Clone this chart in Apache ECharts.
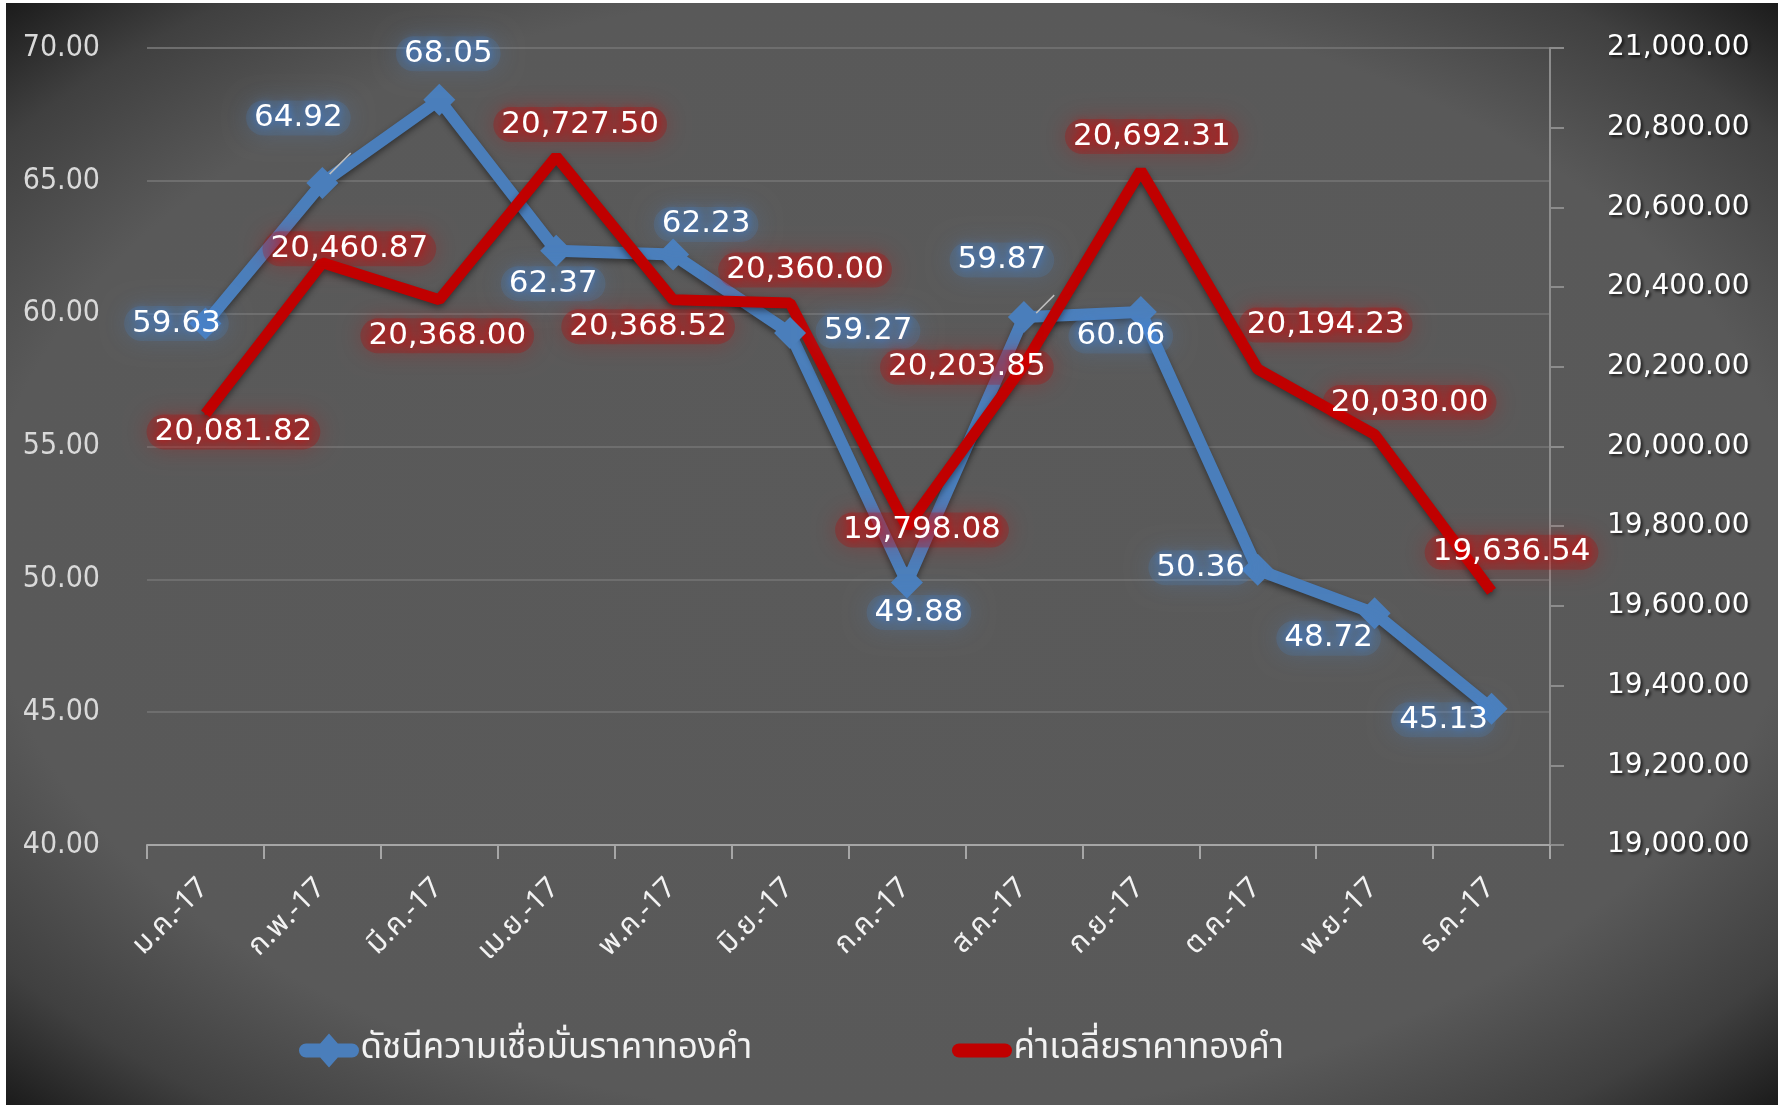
<!DOCTYPE html>
<html>
<head>
<meta charset="utf-8">
<title>ดัชนีความเชื่อมั่นราคาทองคำ</title>
<script src="https://cdn.jsdelivr.net/npm/echarts@6/dist/echarts.min.js"></script>
<style>
html, body { margin: 0; padding: 0; background: #ffffff; }
#main { width: 1785px; height: 1105px; }
</style>
</head>
<body>
<div id="main"></div>
<script>
// ข้อมูล (อ่านจากภาพ)
var months = ['ม.ค.-17', 'ก.พ.-17', 'มี.ค.-17', 'เม.ย.-17', 'พ.ค.-17', 'มิ.ย.-17',
              'ก.ค.-17', 'ส.ค.-17', 'ก.ย.-17', 'ต.ค.-17', 'พ.ย.-17', 'ธ.ค.-17'];
var confidenceIndex = [59.63, 64.92, 68.05, 62.37, 62.23, 59.27, 49.88, 59.87, 60.06, 50.36, 48.72, 45.13];
var goldAverage = [20081.82, 20460.87, 20368.00, 20727.50, 20368.52, 20360.00,
                   19798.08, 20203.85, 20692.31, 20194.23, 20030.00, 19636.54];
var seriesNames = ['ดัชนีความเชื่อมั่นราคาทองคำ', 'ค่าเฉลี่ยราคาทองคำ'];

// ตำแหน่งป้ายกำกับ (เลื่อนจากจุด)
var blueOffsets = [[-29, 0], [-24, -65], [9, -46], [-3, 33], [33, -30], [78, -2],
                   [12, 30], [-22, -57], [-20, 24], [-57, -2], [-46, 25], [-48, 11]];
var redOffsets = [[28, 18], [27, -14], [8, 36], [24, -32], [-25, 27], [15, -33],
                  [15, 3], [-57, 2], [11, -34], [68, -44], [35, -32], [20, -39]];
var leaderIdx = [1, 7];

var BLUE = '#4a7ebb';
var RED = '#c00000';
var THAI_FONT = 'Noto Sans Thai, Tahoma, sans-serif';

function fmt2(v) {
  return Number(v).toFixed(2);
}
function fmtComma(v) {
  var s = Number(v).toFixed(2).split('.');
  s[0] = s[0].replace(/\B(?=(\d{3})+(?!\d))/g, ',');
  return s.join('.');
}

var blueData = confidenceIndex.map(function (v, i) {
  var item = { value: v, label: { offset: blueOffsets[i] } };
  if (leaderIdx.indexOf(i) >= 0) {
    item.labelLine = { show: true, lineStyle: { color: '#bfbfbf', width: 1.5 } };
  }
  return item;
});
var redData = goldAverage.map(function (v, i) {
  return { value: v, label: { offset: redOffsets[i] } };
});

var labelBase = {
  show: true,
  position: 'inside',
  color: '#ffffff',
  fontFamily: 'DejaVu Sans',
  fontSize: 31,
  padding: [2, 8],
  borderRadius: 18
};

// ไอคอนคำอธิบาย: แถบหนาขอบมน (+ รูปข้าวหลามตัดสำหรับเส้นสีน้ำเงิน)
var barPath = 'M7,10 L53,10 A7,7 0 0 1 53,24 L7,24 A7,7 0 0 1 7,10 Z';
var blueIcon = 'path://' + barPath + ' M30,0 L45,17 L30,34 L15,17 Z';

var chart = echarts.init(document.getElementById('main'));
chart.setOption({
  backgroundColor: '#ffffff',
  animation: false,
  graphic: [{
    type: 'rect',
    z: -10,
    silent: true,
    x: 6, y: 3,
    scaleX: 1772 / 1102,
    shape: { x: 0, y: 0, width: 1102, height: 1102 },
    style: {
      fill: {
        type: 'radial', x: 0.5, y: 0.5, r: 0.71,
        colorStops: [
          { offset: 0, color: '#5a5a5a' },
          { offset: 0.72, color: '#595959' },
          { offset: 0.88, color: '#404040' },
          { offset: 1, color: '#1a1a1a' }
        ]
      }
    }
  }],
  grid: { left: 147, right: 235, top: 48, bottom: 260 },
  legend: [{
    left: 294,
    top: 1028,
    itemWidth: 61,
    itemHeight: 34,
    icon: blueIcon,
    textStyle: { color: '#f2f2f2', fontSize: 35, fontFamily: THAI_FONT, padding: [0, 0, 0, -4] },
    data: [seriesNames[0]]
  }, {
    left: 947,
    top: 1028,
    itemWidth: 61,
    itemHeight: 34,
    icon: 'path://' + barPath + ' M0,0 M60,34',
    itemStyle: { color: RED },
    textStyle: { color: '#f2f2f2', fontSize: 35, fontFamily: THAI_FONT, padding: [0, 0, 0, -4] },
    data: [seriesNames[1]]
  }],
  xAxis: {
    type: 'category',
    data: months,
    boundaryGap: true,
    axisLine: { lineStyle: { color: '#a6a6a6', width: 2 } },
    axisTick: { show: true, length: 14, lineStyle: { color: '#a6a6a6', width: 2 } },
    axisLabel: {
      rotate: 45,
      margin: 40,
      color: '#f2f2f2',
      fontSize: 29,
      fontFamily: THAI_FONT
    },
    splitLine: { show: false }
  },
  yAxis: [{
    type: 'value',
    min: 40, max: 70, interval: 5,
    axisLine: { show: false },
    axisTick: { show: false },
    axisLabel: {
      formatter: fmt2,
      color: '#d9d9d9',
      fontSize: 30,
      fontFamily: 'DejaVu Sans Condensed, DejaVu Sans',
      margin: 47,
      padding: [0, 0, 14, 0]
    },
    splitLine: { lineStyle: { color: '#6e6e6e', width: 2 } }
  }, {
    type: 'value',
    position: 'right',
    min: 19000, max: 21000, interval: 200,
    axisLine: { show: true, lineStyle: { color: '#8c8c8c', width: 2 } },
    axisTick: { show: true, inside: false, length: 14, lineStyle: { color: '#8c8c8c', width: 2 } },
    axisLabel: {
      formatter: fmtComma,
      color: '#ffffff',
      fontSize: 28,
      fontFamily: 'DejaVu Sans',
      margin: 57,
      padding: [0, 0, 10, 0],
      textShadowColor: 'rgba(0,0,0,0.7)',
      textShadowBlur: 3,
      textShadowOffsetX: 2,
      textShadowOffsetY: 2
    },
    splitLine: { show: false }
  }],
  series: [{
    name: seriesNames[0],
    type: 'line',
    yAxisIndex: 0,
    data: blueData,
    symbol: 'diamond',
    symbolSize: 32,
    z: 2,
    lineStyle: { color: BLUE, width: 12, shadowColor: 'rgba(0,0,0,0.45)', shadowBlur: 6, shadowOffsetY: 3 },
    itemStyle: { color: BLUE },
    label: Object.assign({}, labelBase, {
      formatter: function (p) { return fmt2(p.value); },
      backgroundColor: 'rgba(74,126,187,0.22)',
      shadowColor: 'rgba(80,140,215,0.9)',
      shadowBlur: 22,
      textShadowColor: 'rgba(60,130,230,1)',
      textShadowBlur: 10
    })
  }, {
    name: seriesNames[1],
    type: 'line',
    yAxisIndex: 1,
    data: redData,
    symbol: 'circle',
    symbolSize: 2,
    z: 2,
    lineStyle: { color: RED, width: 11, shadowColor: 'rgba(0,0,0,0.45)', shadowBlur: 6, shadowOffsetY: 3 },
    itemStyle: { color: RED },
    label: Object.assign({}, labelBase, {
      formatter: function (p) { return fmtComma(p.value); },
      backgroundColor: 'rgba(192,0,0,0.25)',
      shadowColor: 'rgba(215,0,0,0.9)',
      shadowBlur: 22,
      textShadowColor: 'rgba(230,0,0,1)',
      textShadowBlur: 10
    })
  }]
});
</script>
</body>
</html>
